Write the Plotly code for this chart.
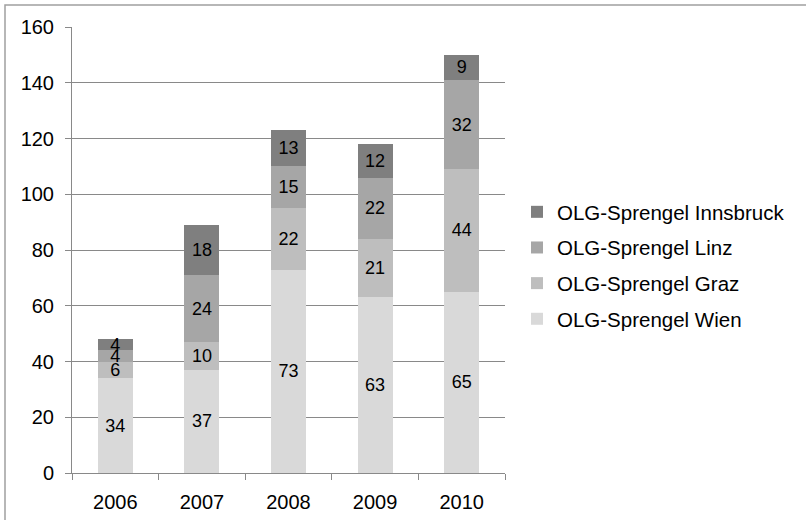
import plotly.graph_objects as go

years = ["2006", "2007", "2008", "2009", "2010"]
wien = [34, 37, 73, 63, 65]
graz = [6, 10, 22, 21, 44]
linz = [4, 24, 15, 22, 32]
innsbruck = [4, 18, 13, 12, 9]

series = [
    ("OLG-Sprengel Wien", wien, "#d9d9d9"),
    ("OLG-Sprengel Graz", graz, "#bebebe"),
    ("OLG-Sprengel Linz", linz, "#a6a6a6"),
    ("OLG-Sprengel Innsbruck", innsbruck, "#7f7f7f"),
]

FONT = "Liberation Sans, Arial, sans-serif"
W, H = 806, 520
L, R, T, B = 72, 301, 27, 47
pw, ph = W - L - R, H - T - B

fig = go.Figure()
for i, (name, vals, col) in enumerate(series):
    fig.add_trace(go.Bar(
        x=years, y=vals, name=name, marker=dict(color=col, line=dict(width=0)),
        text=[str(v) for v in vals], textposition="inside", insidetextanchor="middle",
        textangle=0, constraintext="none",
        textfont=dict(family=FONT, size=18, color="#000000"),
        legendgroup=f"g{i}", legendrank=len(series) - i, hoverinfo="skip",
    ))

def px_x(p):
    return (p - L) / pw

def px_y(p):
    return (H - B - p) / ph

fig.update_layout(
    width=W, height=H, barmode="stack", bargap=0.595,
    margin=dict(l=L, r=R, t=T, b=B, pad=0, autoexpand=False),
    paper_bgcolor="white", plot_bgcolor="white",
    font=dict(family=FONT, size=20, color="#000000"),
    uniformtext=dict(minsize=18, mode="show"),
    showlegend=True,
    legend=dict(
        x=px_x(517), y=px_y(192), xanchor="left", yanchor="top",
        traceorder="grouped", tracegroupgap=6,
        font=dict(family=FONT, size=20.5, color="#000000"),
        bgcolor="rgba(0,0,0,0)", itemwidth=30,
    ),
    xaxis=dict(
        type="category", showgrid=False, showline=True, linecolor="#898989", linewidth=1,
        ticks="outside", tickson="boundaries", ticklen=6, tickcolor="#898989",
        tickfont=dict(family=FONT, size=20, color="#000000"),
        ticklabelstandoff=11, fixedrange=True, automargin=False,
    ),
    yaxis=dict(
        range=[0, 160], dtick=20, showgrid=True, gridcolor="#898989", gridwidth=1,
        showline=True, linecolor="#898989", linewidth=1,
        ticks="outside", ticklen=6, tickcolor="#898989", zeroline=False,
        tickfont=dict(family=FONT, size=20, color="#000000"),
        ticklabelstandoff=7, fixedrange=True, automargin=False,
    ),
    shapes=[dict(
        type="rect", xref="paper", yref="paper",
        x0=px_x(5), x1=px_x(812), y0=px_y(5), y1=px_y(526),
        line=dict(color="#a0a0a0", width=1.5), fillcolor="rgba(0,0,0,0)", layer="below",
    )],
)

fig.write_html("out.html", config={"displayModeBar": False},
               post_script="document.body.style.margin='0';")
